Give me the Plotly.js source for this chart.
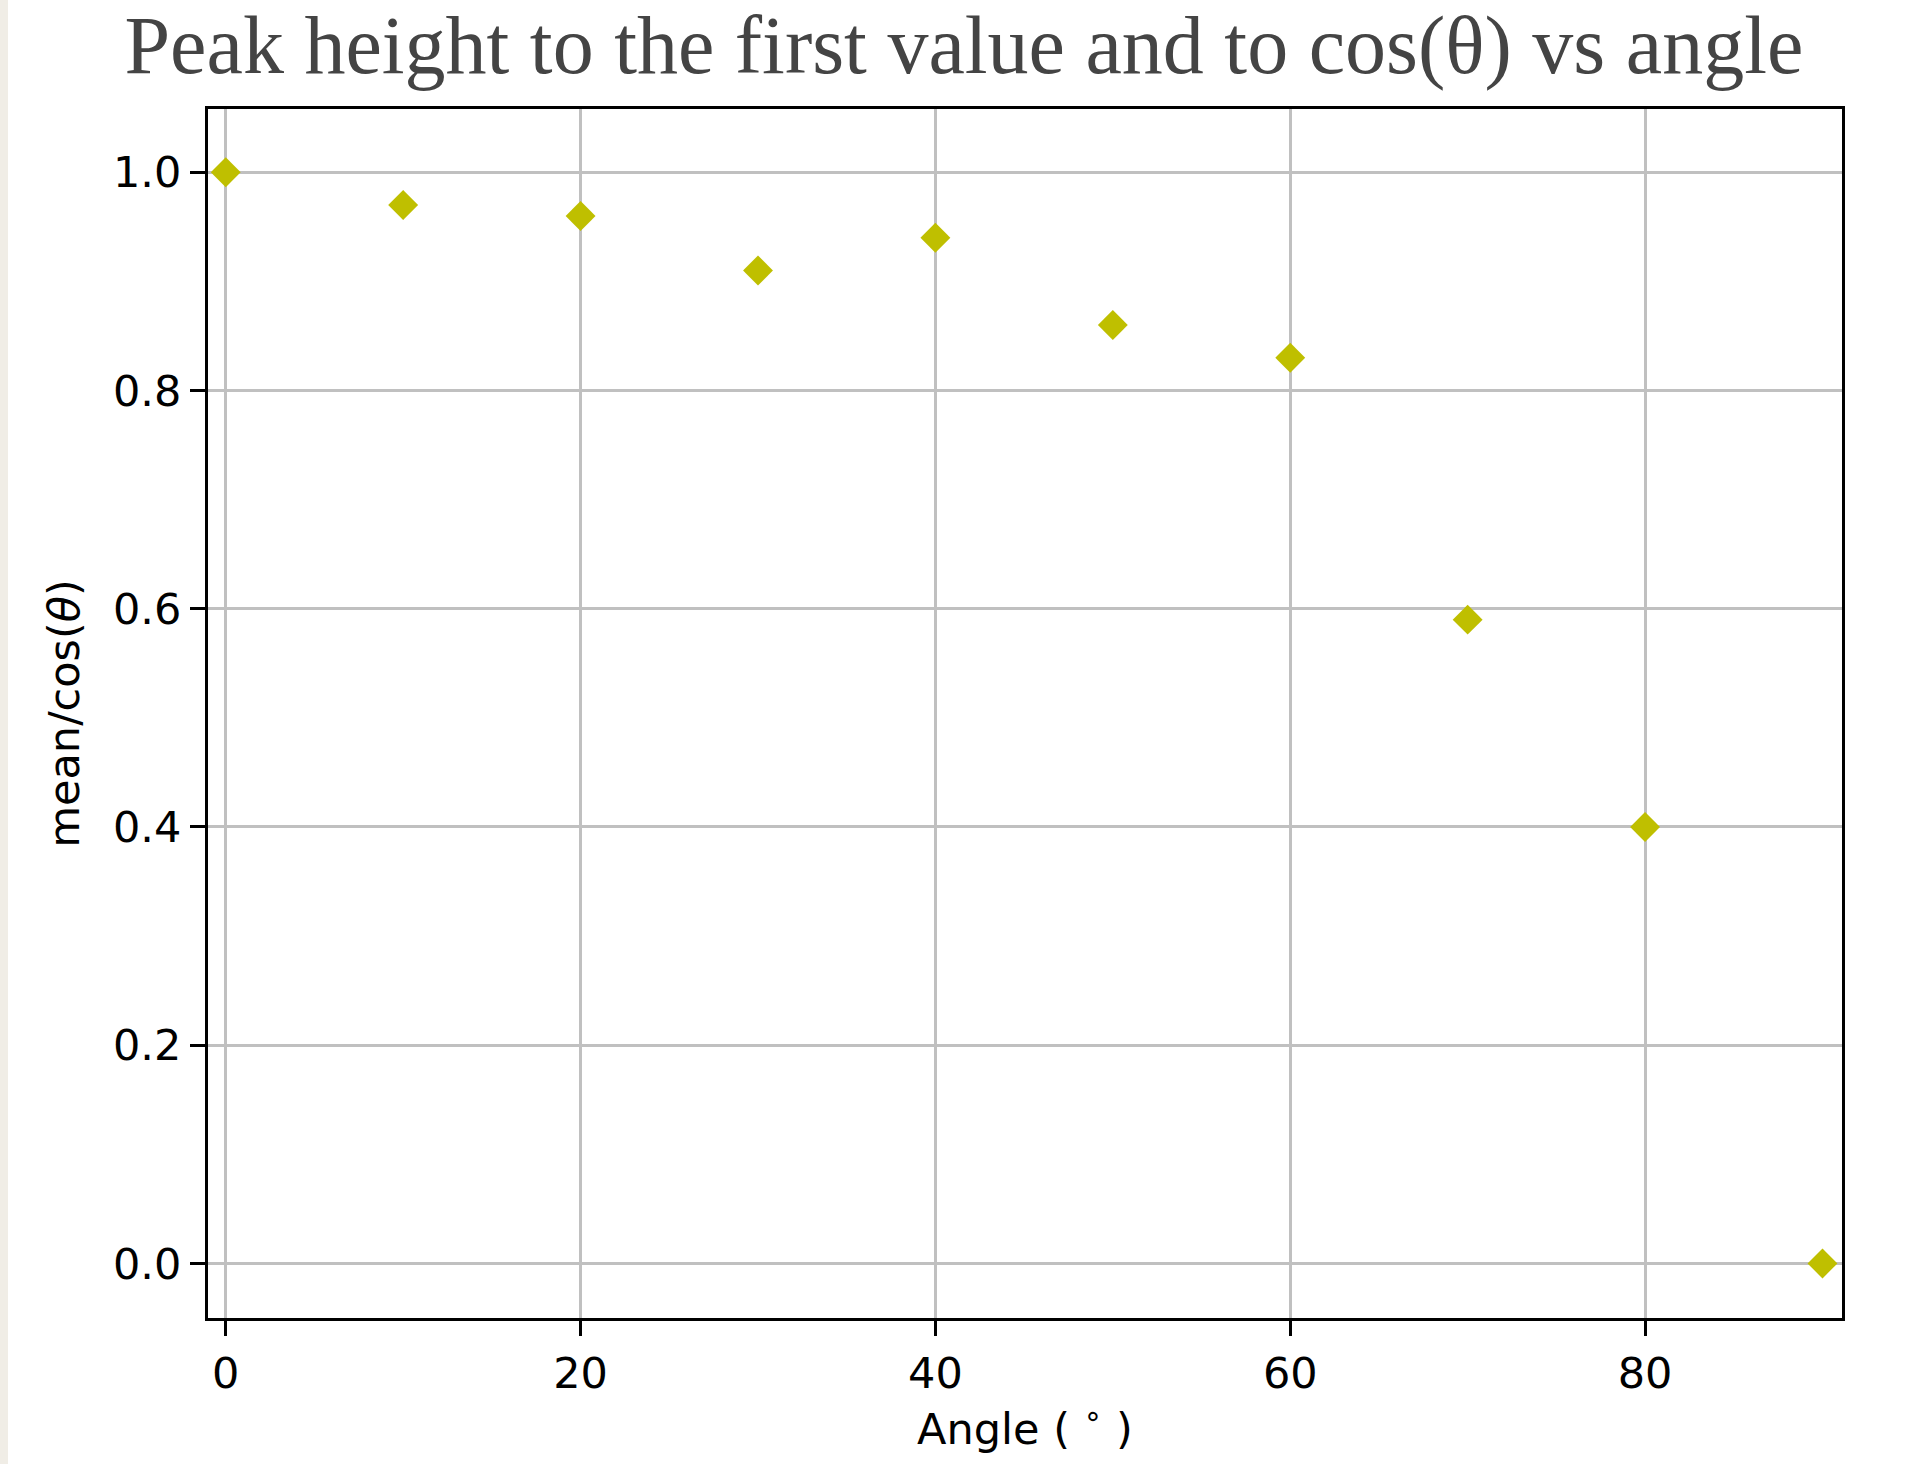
<!DOCTYPE html>
<html>
<head>
<meta charset="utf-8">
<script src="https://cdn.plot.ly/plotly-3.0.1.min.js"></script>
<style>
  html, body { margin: 0; padding: 0; background: #ffffff; }
  #strip { position: absolute; left: 0; top: 0; width: 8px; height: 1464px; background: #f0ede6; z-index: 10; }
  #chart { width: 1905px; height: 1464px; }
</style>
</head>
<body>
<div id="strip"></div>
<div id="chart"></div>
<script>
// Data
const angles = [0, 10, 20, 30, 40, 50, 60, 70, 80, 90];
const ratio = [1.0, 0.97, 0.96, 0.91, 0.94, 0.86, 0.83, 0.59, 0.40, 0.0];
const xTicks = [0, 20, 40, 60, 80];
const yTicks = [0.0, 0.2, 0.4, 0.6, 0.8, 1.0];
const yTickLabels = ["0.0", "0.2", "0.4", "0.6", "0.8", "1.0"];

const tickFont = { family: "DejaVu Sans", size: 43, color: "#000000" };

const trace = {
  x: angles,
  y: ratio,
  type: "scatter",
  mode: "markers",
  marker: { symbol: "diamond", size: 23, color: "#bfbf00", line: { width: 0 } },
  hoverinfo: "x+y"
};

const layout = {
  width: 1905,
  height: 1464,
  paper_bgcolor: "#ffffff",
  plot_bgcolor: "#ffffff",
  showlegend: false,
  margin: { l: 208, r: 63, t: 109, b: 146, pad: 0 },
  title: {
    text: "Peak height to the first value and to cos(θ) vs angle",
    font: { family: "Liberation Serif", size: 82, color: "#444444" },
    xref: "container", x: 0.506, xanchor: "center",
    yref: "container", y: 1 - 16 / 1464, yanchor: "top"
  },
  xaxis: {
    range: [-1.0, 91.1],
    tickvals: xTicks,
    ticktext: xTicks.map(String),
    ticks: "outside", ticklen: 15, tickwidth: 3, tickcolor: "#000000",
    tickfont: tickFont,
    showgrid: true, gridcolor: "#c0c0c0", gridwidth: 3,
    zeroline: false,
    showline: true, linecolor: "#000000", linewidth: 3, mirror: true,
    automargin: false,
    title: { text: "Angle ( <sup>∘</sup> )", font: tickFont, standoff: 12 }
  },
  yaxis: {
    range: [-0.05, 1.058],
    tickvals: yTicks,
    ticktext: yTickLabels,
    ticks: "outside", ticklen: 15, tickwidth: 3, tickcolor: "#000000",
    tickfont: tickFont,
    showgrid: true, gridcolor: "#c0c0c0", gridwidth: 3,
    zeroline: false,
    showline: true, linecolor: "#000000", linewidth: 3, mirror: true,
    automargin: false,
    title: { text: "mean/cos(<i>θ</i>)", font: tickFont, standoff: 20 }
  }
};

Plotly.newPlot("chart", [trace], layout, { displayModeBar: false, staticPlot: true });
</script>
</body>
</html>
